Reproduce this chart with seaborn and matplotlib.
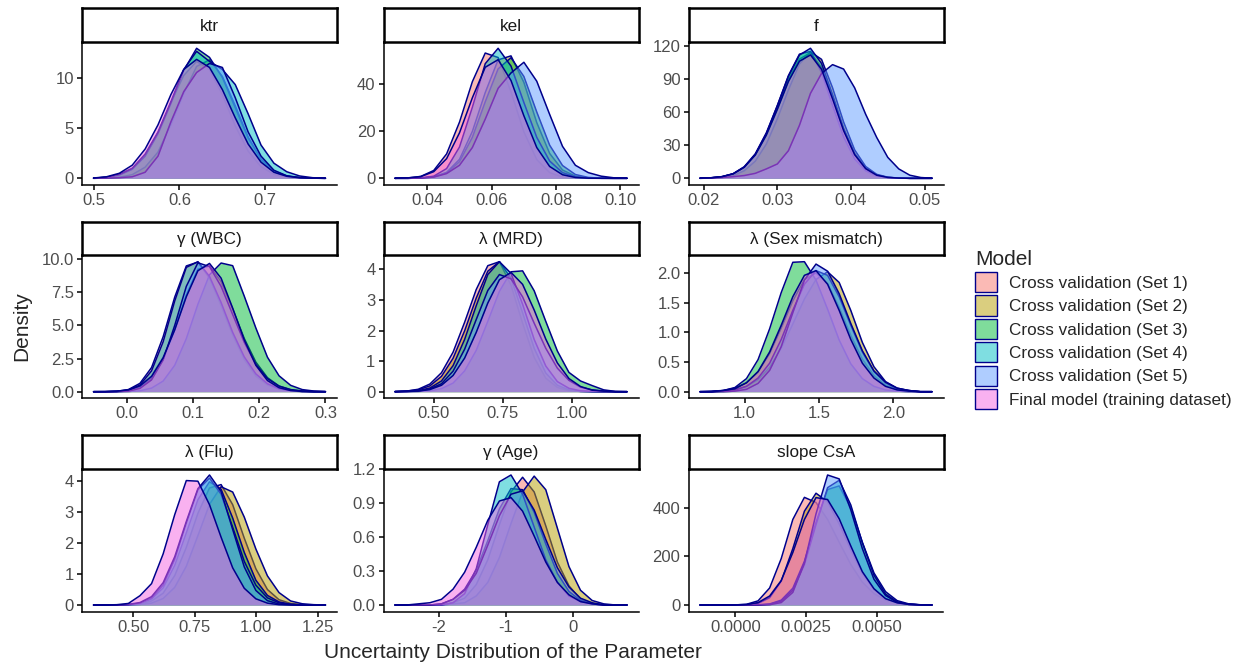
import pandas as pd
import seaborn as sns
import matplotlib.pyplot as plt
from matplotlib.patches import Patch
from matplotlib.colors import to_rgba

models = ['Cross validation (Set 1)', 'Cross validation (Set 2)', 'Cross validation (Set 3)',
          'Cross validation (Set 4)', 'Cross validation (Set 5)', 'Final model (training dataset)']
fill_colors = ['#F8766D', '#B79F00', '#00BA38', '#00BFC4', '#619CFF', '#F564E3']
edge_color = '#00008B'

params = ['ktr', 'kel', 'f', 'γ (WBC)', 'λ (MRD)', 'λ (Sex mismatch)', 'λ (Flu)', 'γ (Age)', 'slope CsA']

# density curves, one x grid per parameter, one row per model (Set 1..5, Final)
ktr_x = [0.500, 0.515, 0.530, 0.545, 0.560, 0.575, 0.590, 0.605, 0.620, 0.635, 0.650, 0.665, 0.680,
         0.695, 0.710, 0.725, 0.740, 0.755, 0.770]
ktr_y = [
    [0.02, 0.08, 0.3, 0.9, 2.2, 4.5, 7.5, 10.2, 11.6, 10.8, 8.3, 5.2, 2.7, 1.15, 0.4, 0.12, 0.03, 0.01, 0],
    [0, 0.02, 0.1, 0.36, 1.1, 2.6, 5.3, 8.4, 11.1, 11.75, 10.1, 7.2, 4.1, 1.9, 0.73, 0.22, 0.06, 0.01, 0],
    [0.02, 0.1, 0.35, 0.9, 2.2, 4.4, 7.4, 10.7, 12.9, 12.0, 10.0, 7.0, 4.0, 1.9, 0.7, 0.22, 0.06, 0.01, 0],
    [0.02, 0.1, 0.4, 1.0, 2.4, 4.6, 7.6, 10.8, 12.6, 11.6, 10.8, 9.3, 6.4, 3.3, 1.5, 0.65, 0.23, 0.06, 0.01],
    [0, 0.02, 0.06, 0.15, 0.6, 2.2, 5.6, 8.6, 10.5, 11.4, 11.0, 8.0, 4.6, 2.2, 0.8, 0.25, 0.07, 0.02, 0],
    [0.03, 0.15, 0.5, 1.3, 2.9, 5.3, 8.3, 10.8, 11.8, 11.0, 8.8, 6.0, 3.4, 1.6, 0.6, 0.2, 0.05, 0.01, 0],
]

kel_x = [0.030, 0.034, 0.038, 0.042, 0.046, 0.050, 0.054, 0.058, 0.062, 0.066, 0.070, 0.074, 0.078,
         0.082, 0.086, 0.090, 0.094, 0.098, 0.102]
kel_y = [
    [0, 0.14, 0.8, 3.3, 10.3, 23.7, 40.8, 52.9, 51, 36.5, 19.6, 7.9, 2.4, 0.53, 0.08, 0.01, 0, 0, 0],
    [0, 0, 0.1, 0.6, 2.5, 8.0, 19.8, 36.2, 50, 51.7, 40.5, 23.5, 10.5, 3.5, 0.9, 0.16, 0.02, 0, 0],
    [0, 0, 0.1, 0.55, 2.25, 7.0, 17.3, 32.3, 46.2, 50.9, 43, 28, 14, 5.4, 1.6, 0.37, 0.06, 0, 0],
    [0, 0, 0.14, 0.9, 4.1, 13.2, 30, 48.4, 54.9, 47.4, 32, 17.3, 7.3, 2.4, 0.6, 0.13, 0.02, 0, 0],
    [0, 0, 0.1, 0.5, 2, 5.5, 13, 25, 38, 44.5, 49, 41, 27, 13.5, 5.5, 2.4, 0.9, 0.2, 0],
    [0, 0.19, 0.73, 2.8, 8.3, 19.2, 34, 46.9, 50.1, 41.3, 26.4, 13, 5, 1.5, 0.35, 0.06, 0, 0, 0],
]

f_x = [0.0195, 0.021, 0.0225, 0.024, 0.0255, 0.027, 0.0285, 0.030, 0.0315, 0.033, 0.0345, 0.036,
       0.0375, 0.039, 0.0405, 0.042, 0.0435, 0.045, 0.0465, 0.048, 0.0495, 0.051]
f_y = [
    [0.1, 0.5, 1.5, 4.1, 10.1, 21.4, 39.8, 63.6, 89.3, 108, 113.8, 100.5, 73.3, 44, 21.8, 8.9, 2.9, 0.8, 0.2, 0, 0, 0],
    [0, 0.2, 0.8, 2.5, 6.8, 15.5, 31, 54, 80, 103.5, 114.6, 107.8, 82, 51, 25.8, 10.7, 3.6, 1, 0.2, 0, 0, 0],
    [0.1, 0.4, 1.3, 3.9, 9.8, 21.5, 40.5, 66, 93, 112.5, 115, 96, 66, 37.5, 17.5, 6.8, 2.1, 0.5, 0.1, 0, 0, 0],
    [0.1, 0.5, 1.5, 4.2, 10.5, 22.2, 41.2, 65.8, 92.4, 111.7, 117.8, 104.1, 75.9, 45.5, 22.5, 9.2, 3, 0.8, 0.2, 0, 0, 0],
    [0, 0.2, 0.7, 1.5, 2.5, 4.5, 8.5, 13, 25, 48, 77, 95, 103, 99, 82, 58, 37, 19, 8.5, 2.8, 0.7, 0.1],
    [0.1, 0.4, 1.5, 4, 10, 21.1, 39.1, 62.5, 87.7, 106.1, 111.8, 98.8, 72, 43.2, 21.4, 8.7, 2.8, 0.8, 0.2, 0, 0, 0],
]

wbc_x = [-0.05, -0.0325, -0.015, 0.0025, 0.02, 0.0375, 0.055, 0.0725, 0.09, 0.1075, 0.125, 0.1425,
         0.16, 0.1775, 0.195, 0.2125, 0.23, 0.2475, 0.265, 0.2825, 0.30]
wbc_y = [
    [0, 0, 0.03, 0.16, 0.63, 1.82, 4.14, 7.13, 9.48, 9.77, 8.55, 6.48, 4.26, 2.42, 1.17, 0.5, 0.18, 0.06, 0.01, 0, 0],
    [0, 0, 0.02, 0.09, 0.34, 1.02, 2.42, 4.67, 7.3, 9.24, 9.48, 8.3, 6.23, 4.01, 2.23, 1.06, 0.43, 0.15, 0.05, 0.01, 0],
    [0, 0, 0, 0.02, 0.07, 0.27, 0.8, 1.99, 4.0, 6.59, 8.81, 9.7, 9.5, 7.2, 4.8, 2.6, 1.2, 0.48, 0.16, 0.05, 0.01],
    [0, 0, 0.02, 0.12, 0.5, 1.57, 3.76, 6.84, 9.37, 9.80, 8.69, 6.72, 4.47, 2.62, 1.34, 0.6, 0.23, 0.08, 0.02, 0, 0],
    [0, 0, 0.01, 0.05, 0.25, 0.89, 2.39, 5.0, 7.94, 9.72, 9.43, 7.94, 5.82, 3.72, 2.05, 0.99, 0.42, 0.16, 0.05, 0.01, 0],
    [0, 0.01, 0.04, 0.14, 0.44, 1.16, 2.57, 4.66, 7.16, 9.12, 9.67, 8.56, 6.3, 3.9, 1.99, 0.84, 0.3, 0.09, 0.02, 0, 0],
]

mrd_x = [0.36, 0.402, 0.444, 0.486, 0.528, 0.57, 0.612, 0.654, 0.696, 0.738, 0.78, 0.822, 0.864,
         0.906, 0.948, 0.99, 1.032, 1.074, 1.116, 1.158, 1.20]
mrd_y = [
    [0.01, 0.02, 0.08, 0.25, 0.62, 1.29, 2.27, 3.34, 4.12, 4.25, 3.48, 2.24, 1.12, 0.44, 0.14, 0.03, 0.01, 0, 0, 0, 0],
    [0, 0.02, 0.06, 0.19, 0.5, 1.09, 1.99, 3.06, 3.94, 4.25, 3.71, 2.58, 1.42, 0.61, 0.21, 0.06, 0.01, 0, 0, 0, 0],
    [0, 0, 0.01, 0.03, 0.1, 0.28, 0.68, 1.35, 2.3, 3.28, 3.92, 3.95, 3.3, 2.3, 1.33, 0.63, 0.35, 0.2, 0.06, 0.01, 0],
    [0, 0.01, 0.03, 0.12, 0.35, 0.85, 1.71, 2.81, 3.83, 4.25, 3.87, 2.86, 1.71, 0.84, 0.33, 0.11, 0.03, 0.01, 0, 0, 0],
    [0, 0.01, 0.02, 0.09, 0.26, 0.67, 1.39, 2.36, 3.31, 3.83, 3.69, 3.1, 2.24, 1.42, 0.77, 0.37, 0.15, 0.06, 0.02, 0, 0],
    [0, 0.01, 0.02, 0.07, 0.21, 0.53, 1.1, 1.94, 2.9, 3.66, 3.9, 3.51, 2.67, 1.72, 0.94, 0.43, 0.17, 0.05, 0.02, 0, 0],
]

sex_x = [0.70, 0.778, 0.856, 0.934, 1.012, 1.09, 1.168, 1.246, 1.324, 1.402, 1.48, 1.558, 1.636,
         1.714, 1.792, 1.87, 1.948, 2.026, 2.104, 2.182, 2.26]
sex_y = [
    [0, 0.01, 0.02, 0.06, 0.15, 0.33, 0.64, 1.07, 1.53, 1.89, 2.0, 1.82, 1.42, 0.95, 0.55, 0.27, 0.11, 0.04, 0.01, 0, 0],
    [0, 0, 0.01, 0.03, 0.09, 0.2, 0.41, 0.73, 1.14, 1.56, 1.89, 2.02, 1.84, 1.37, 0.83, 0.42, 0.17, 0.06, 0.02, 0, 0],
    [0, 0, 0.02, 0.07, 0.22, 0.54, 1.06, 1.67, 2.18, 2.19, 1.88, 1.39, 0.87, 0.47, 0.22, 0.09, 0.03, 0.01, 0, 0, 0],
    [0, 0, 0.01, 0.03, 0.09, 0.23, 0.48, 0.88, 1.37, 1.81, 2.04, 1.96, 1.6, 1.12, 0.67, 0.34, 0.15, 0.05, 0.02, 0, 0],
    [0, 0, 0, 0.01, 0.04, 0.14, 0.36, 0.76, 1.33, 1.88, 2.15, 2.03, 1.65, 1.15, 0.69, 0.35, 0.16, 0.06, 0.02, 0, 0],
    [0, 0, 0.02, 0.05, 0.15, 0.34, 0.67, 1.12, 1.6, 1.96, 2.04, 1.81, 1.37, 0.88, 0.48, 0.23, 0.09, 0.03, 0.01, 0, 0],
]

flu_x = [0.34, 0.387, 0.434, 0.481, 0.528, 0.575, 0.622, 0.669, 0.716, 0.763, 0.81, 0.857, 0.904,
         0.951, 0.998, 1.045, 1.092, 1.139, 1.186, 1.233, 1.28]
flu_y = [
    [0, 0, 0, 0.01, 0.03, 0.13, 0.38, 0.95, 1.86, 2.96, 3.78, 3.89, 3.24, 2.16, 1.17, 0.5, 0.17, 0.05, 0.01, 0, 0],
    [0, 0, 0, 0, 0.02, 0.06, 0.21, 0.57, 1.25, 2.24, 3.25, 3.82, 3.65, 2.84, 1.81, 0.94, 0.4, 0.13, 0.04, 0.01, 0],
    [0, 0, 0, 0.01, 0.05, 0.19, 0.55, 1.28, 2.33, 3.4, 3.98, 3.74, 2.81, 1.7, 0.8, 0.31, 0.1, 0.02, 0, 0, 0],
    [0, 0, 0, 0.01, 0.06, 0.22, 0.64, 1.47, 2.64, 3.72, 4.1, 3.58, 2.51, 1.41, 0.64, 0.23, 0.07, 0.02, 0, 0, 0],
    [0, 0, 0, 0.02, 0.08, 0.27, 0.72, 1.56, 2.7, 3.76, 4.2, 3.67, 2.44, 1.23, 0.47, 0.14, 0.03, 0.01, 0, 0, 0],
    [0, 0, 0.01, 0.05, 0.3, 0.69, 1.65, 2.92, 4.02, 4.0, 3.24, 2.19, 1.2, 0.54, 0.2, 0.06, 0.01, 0, 0, 0, 0],
]

age_x = [-2.65, -2.4775, -2.305, -2.1325, -1.96, -1.7875, -1.615, -1.4425, -1.27, -1.0975, -0.925,
         -0.7525, -0.58, -0.4075, -0.235, -0.0625, 0.11, 0.2825, 0.455, 0.6275, 0.80]
age_y = [
    [0, 0, 0, 0, 0, 0.02, 0.06, 0.18, 0.4, 0.71, 1.0, 1.13, 1.0, 0.7, 0.38, 0.17, 0.05, 0.01, 0, 0, 0],
    [0, 0, 0, 0, 0, 0.01, 0.02, 0.08, 0.2, 0.42, 0.72, 1.0, 1.14, 1.02, 0.68, 0.34, 0.13, 0.04, 0.01, 0, 0],
    [0, 0, 0, 0, 0.01, 0.05, 0.14, 0.31, 0.57, 0.85, 1.03, 1.02, 0.82, 0.54, 0.28, 0.12, 0.04, 0.01, 0, 0, 0],
    [0, 0, 0, 0, 0, 0.02, 0.1, 0.32, 0.71, 1.09, 1.15, 0.98, 0.69, 0.4, 0.2, 0.08, 0.03, 0.01, 0, 0, 0],
    [0, 0, 0, 0, 0.01, 0.05, 0.13, 0.28, 0.53, 0.79, 0.98, 1.01, 0.84, 0.58, 0.33, 0.16, 0.06, 0.02, 0, 0, 0],
    [0, 0, 0.01, 0.02, 0.05, 0.14, 0.29, 0.51, 0.75, 0.92, 0.95, 0.83, 0.61, 0.38, 0.2, 0.09, 0.03, 0.01, 0, 0, 0],
]

csa_x = [-0.00125, -0.00084, -0.00043, -0.00002, 0.00039, 0.0008, 0.00121, 0.00162, 0.00203, 0.00244,
         0.00285, 0.00326, 0.00367, 0.00408, 0.00449, 0.0049, 0.00531, 0.00572, 0.00613, 0.00654, 0.00695]
csa_y = [
    [0, 0, 0, 0.3, 2.9, 17, 70, 191, 352, 443, 422, 352, 258, 167, 94, 47, 20, 8, 2.7, 0.7, 0.2],
    [0, 0, 0, 0, 0.9, 6.3, 30, 98, 232, 386, 460, 425, 334, 227, 130, 63, 26, 9, 2.9, 0.8, 0.2],
    [0, 0, 0, 0, 0, 0.6, 4.2, 20, 69, 180, 340, 475, 490, 400, 258, 132, 55, 18, 4.6, 1, 0.2],
    [0, 0, 0, 0, 0, 0.5, 3.2, 16, 61, 166, 331, 483, 513, 412, 256, 123, 45, 12.7, 2.7, 0.5, 0],
    [0, 0, 0, 0, 0, 0, 1.3, 10, 52, 173, 375, 535, 519, 392, 232, 106, 39, 11, 2.5, 0.5, 0],
    [0, 0, 0, 0.4, 2.2, 10, 37, 101, 216, 352, 442, 434, 355, 243, 137, 67, 26, 9, 2.4, 0.5, 0.1],
]

panel_x = [ktr_x, kel_x, f_x, wbc_x, mrd_x, sex_x, flu_x, age_x, csa_x]
panel_y = [ktr_y, kel_y, f_y, wbc_y, mrd_y, sex_y, flu_y, age_y, csa_y]

x_ticks = [[0.5, 0.6, 0.7], [0.04, 0.06, 0.08, 0.10], [0.02, 0.03, 0.04, 0.05], [0.0, 0.1, 0.2, 0.3],
           [0.5, 0.75, 1.0], [1.0, 1.5, 2.0], [0.5, 0.75, 1.0, 1.25], [-2, -1, 0], [0, 0.0025, 0.005]]
x_fmt = ['%.1f', '%.2f', '%.2f', '%.1f', '%.2f', '%.1f', '%.2f', '%d', '%.4f']
y_ticks = [[0, 5, 10], [0, 20, 40], [0, 30, 60, 90, 120], [0, 2.5, 5, 7.5, 10], [0, 1, 2, 3, 4],
           [0, 0.5, 1, 1.5, 2], [0, 1, 2, 3, 4], [0, 0.3, 0.6, 0.9, 1.2], [0, 200, 400]]
y_fmt = ['%d', '%d', '%d', '%.1f', '%d', '%.1f', '%d', '%.1f', '%d']

# long table
rows = []
for p, xs, ys in zip(params, panel_x, panel_y):
    for m, dens in zip(models, ys):
        for xv, dv in zip(xs, dens):
            rows.append((p, m, xv, dv))
df = pd.DataFrame(rows, columns=['param', 'model', 'x', 'density'])

sns.set_theme(style='ticks')
plt.rcParams['font.family'] = ['Liberation Sans', 'DejaVu Sans']

W, H = 1243, 664
fig = plt.figure(figsize=(W / 100, H / 100), dpi=100)

col_left = [82, 383.5, 688.5]
panel_w = 255
row_top = [8.3, 221.7, 435]
strip_h = 33.5
panel_h = 143

for k, p in enumerate(params):
    r, c = divmod(k, 3)
    left = col_left[c] / W
    top = row_top[r]
    ax = fig.add_axes([left, 1 - (top + strip_h + panel_h) / H, panel_w / W, panel_h / H])
    sub = df[df.param == p]
    for i, m in enumerate(models):
        d = sub[sub.model == m]
        ax.fill_between(d.x, d.density, 0, color=fill_colors[i], alpha=0.5, linewidth=0, zorder=2 + 2 * i)
        sns.lineplot(data=d, x='x', y='density', color=edge_color, linewidth=1.1, estimator=None,
                     sort=False, ax=ax, zorder=3 + 2 * i)
    xmin, xmax = sub.x.min(), sub.x.max()
    xr = xmax - xmin
    ymax = sub.density.max()
    ax.set_xlim(xmin - 0.05 * xr, xmax + 0.05 * xr)
    ax.set_ylim(-0.05 * ymax, 1.05 * ymax)
    ax.set_xticks(x_ticks[k], labels=[x_fmt[k] % t for t in x_ticks[k]])
    ax.set_yticks(y_ticks[k], labels=[y_fmt[k] % t for t in y_ticks[k]])
    ax.set_xlabel('')
    ax.set_ylabel('')
    sns.despine(ax=ax)
    for s in ['left', 'bottom']:
        ax.spines[s].set_linewidth(1.1)
        ax.spines[s].set_color('black')
    ax.tick_params(length=3.8, width=1.1, color='black', labelcolor='#4D4D4D', labelsize=12, pad=2)

    # facet strip
    sax = fig.add_axes([left, 1 - (top + strip_h) / H, panel_w / W, strip_h / H])
    sax.set_xticks([])
    sax.set_yticks([])
    for s in sax.spines.values():
        s.set_visible(True)
        s.set_linewidth(1.8)
        s.set_color('black')
    sax.set_facecolor('white')
    sax.text(0.5, 0.47, p, ha='center', va='center', fontsize=12.3, color='#1A1A1A', transform=sax.transAxes)

fig.text(21.7 / W, 1 - 326 / H, 'Density', rotation=90, ha='center', va='center', fontsize=15)
fig.text(512.7 / W, 1 - 653 / H, 'Uncertainty Distribution of the Parameter', ha='center', va='center',
         fontsize=15)

handles = [Patch(facecolor=to_rgba(col, 0.5), edgecolor=edge_color, linewidth=1.0) for col in fill_colors]
fig.legend(handles, models, loc='upper left', bbox_to_anchor=(975 / W, 1 - 250 / H), title='Model',
           frameon=False, fontsize=12.3, title_fontsize=15, handlelength=1.3, handleheight=1.45,
           labelspacing=0.18, handletextpad=0.7, alignment='left', borderpad=0, borderaxespad=0)

fig.savefig('out.png', dpi=100)
